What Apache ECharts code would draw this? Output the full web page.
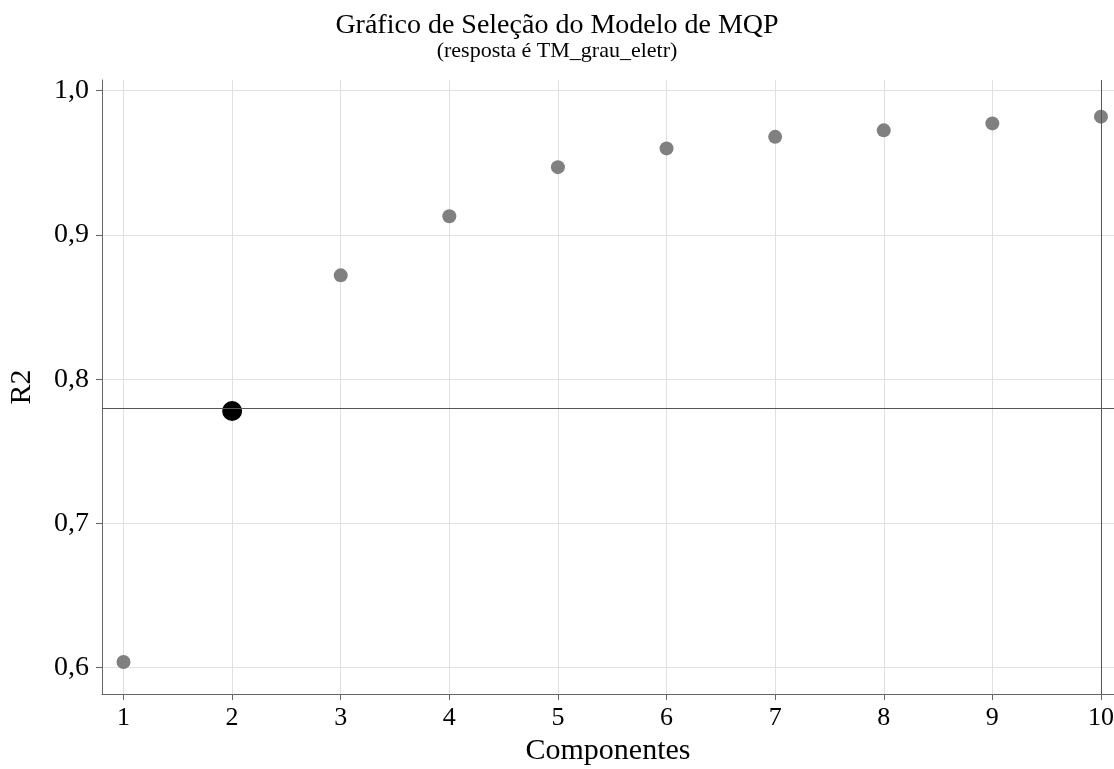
<!DOCTYPE html>
<html>
<head>
<meta charset="utf-8">
<script src="https://cdn.jsdelivr.net/npm/echarts@6/dist/echarts.min.js"></script>
<style>html,body{margin:0;padding:0;background:#fff;overflow:hidden}#c{width:1114px;height:769px}</style>
</head>
<body>
<div id="c"></div>
<script>
const components = [1, 2, 3, 4, 5, 6, 7, 8, 9, 10];
const r2Values = [0.604, 0.778, 0.872, 0.913, 0.947, 0.960, 0.968, 0.9725, 0.9773, 0.982];
const selectedComponent = 2;
const selectedR2 = 0.778;
const xTicks = [1, 2, 3, 4, 5, 6, 7, 8, 9, 10];
const yTicks = [0.6, 0.7, 0.8, 0.9, 1.0];

const F = '"Liberation Serif", "Times New Roman", serif';
const otherPts = [], selPts = [];
components.forEach((c, i) => {
  if (c === selectedComponent) selPts.push([c, r2Values[i]]);
  else otherPts.push([c, r2Values[i]]);
});

const chart = echarts.init(document.getElementById('c'));
chart.setOption({
  animation: false,
  backgroundColor: '#fff',
  title: {
    text: 'Gráfico de Seleção do Modelo de MQP',
    subtext: '(resposta é TM_grau_eletr)',
    left: 'center', top: 7, itemGap: 0, padding: [5, 0, 5, 16],
    textStyle: {fontFamily: F, fontSize: 28, fontWeight: 'normal', color: '#000'},
    subtextStyle: {fontFamily: F, fontSize: 22, color: '#000'}
  },
  grid: {left: 102, right: 0, top: 80, bottom: 75, containLabel: false, outerBoundsMode: 'none'},
  xAxis: {
    type: 'value', min: 0.802, max: 10.12,
    name: 'Componentes', nameLocation: 'middle', nameGap: 36,
    nameTextStyle: {fontFamily: F, fontSize: 30, color: '#000'},
    axisLine: {show: true, lineStyle: {color: '#666', width: 1}},
    axisTick: {show: true, length: 6, lineStyle: {color: '#666'}, customValues: xTicks},
    axisLabel: {fontFamily: F, fontSize: 26, color: '#000', margin: 11, customValues: xTicks},
    splitLine: {show: true, lineStyle: {color: '#e0e0e0', width: 1}}
  },
  yAxis: {
    type: 'value', min: 0.5818, max: 1.0074,
    name: 'R2', nameLocation: 'middle', nameGap: 65, nameRotate: 90,
    nameTextStyle: {fontFamily: F, fontSize: 30, color: '#000'},
    axisLine: {show: true, lineStyle: {color: '#666', width: 1}},
    axisTick: {show: true, length: 6, lineStyle: {color: '#666'}, customValues: yTicks},
    axisLabel: {fontFamily: F, fontSize: 28, color: '#000', margin: 13, customValues: yTicks,
      formatter: v => v.toFixed(1).replace('.', ',')},
    splitLine: {show: true, lineStyle: {color: '#e0e0e0', width: 1}}
  },
  series: [
    {
      type: 'scatter', data: otherPts, symbolSize: 14,
      itemStyle: {color: '#808080', opacity: 1},
      markLine: {
        silent: true, symbol: 'none', label: {show: false},
        lineStyle: {color: '#555', width: 1, type: 'solid'},
        data: [{yAxis: selectedR2}, {xAxis: 10}]
      },
      z: 3
    },
    {
      type: 'scatter', data: selPts, symbolSize: 20,
      itemStyle: {color: '#000', opacity: 1}, z: 4
    }
  ]
});
</script>
</body>
</html>
